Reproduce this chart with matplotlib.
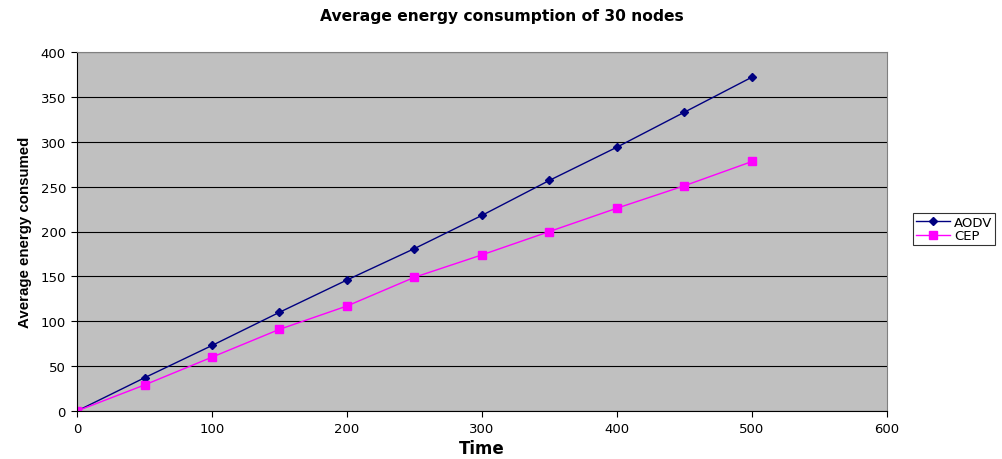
import matplotlib
matplotlib.use("Agg")
import matplotlib.pyplot as plt

time = [0, 50, 100, 150, 200, 250, 300, 350, 400, 450, 500]
aodv = [0, 37, 73, 110, 146, 181, 218, 257, 294, 333, 372]
cep = [0, 29, 60, 91, 117, 149, 174, 200, 226, 251, 278]

plt.rcParams['font.family'] = ['DejaVu Sans']

fig = plt.figure(figsize=(10.03, 4.6), dpi=100)
ax = fig.add_axes([77/1003, 1 - 412/460, (887-77)/1003, (412-53)/460])
ax.set_facecolor('#c0c0c0')
ax.plot(time, aodv, color='#000080', marker='D', markersize=4, linewidth=1, label='AODV')
ax.plot(time, cep, color='#ff00ff', marker='s', markersize=6, linewidth=1, label='CEP')
ax.set_xlim(0, 600)
ax.set_ylim(0, 400)
ax.set_xticks(range(0, 601, 100))
ax.set_yticks(range(0, 401, 50))
ax.yaxis.grid(True, color='black', linewidth=0.8)
ax.set_axisbelow(True)
for s in ['top', 'right']:
    ax.spines[s].set_color('#808080')
for s in ['left', 'bottom']:
    ax.spines[s].set_color('black')
ax.tick_params(labelsize=9.5, length=4, direction='out', pad=4)
ax.set_xlabel('Time', fontsize=12, fontweight='bold', labelpad=3)
ax.set_ylabel('Average energy consumed', fontsize=10.8, fontweight='bold',
              family=['Liberation Sans', 'DejaVu Sans'], labelpad=6)
fig.text(0.5, 1 - 16/460, 'Average energy consumption of 30 nodes', ha='center', va='center',
         fontsize=11.2, fontweight='bold')
leg = fig.legend(loc='center left', bbox_to_anchor=(913/1003, 1 - 230/460), fontsize=9.5,
                 frameon=True, fancybox=False, edgecolor='black', borderpad=0.2, handlelength=2.6,
                 labelspacing=0.05, handletextpad=0.3, borderaxespad=0)
leg.get_frame().set_linewidth(0.8)
fig.savefig('out.png', dpi=100)
